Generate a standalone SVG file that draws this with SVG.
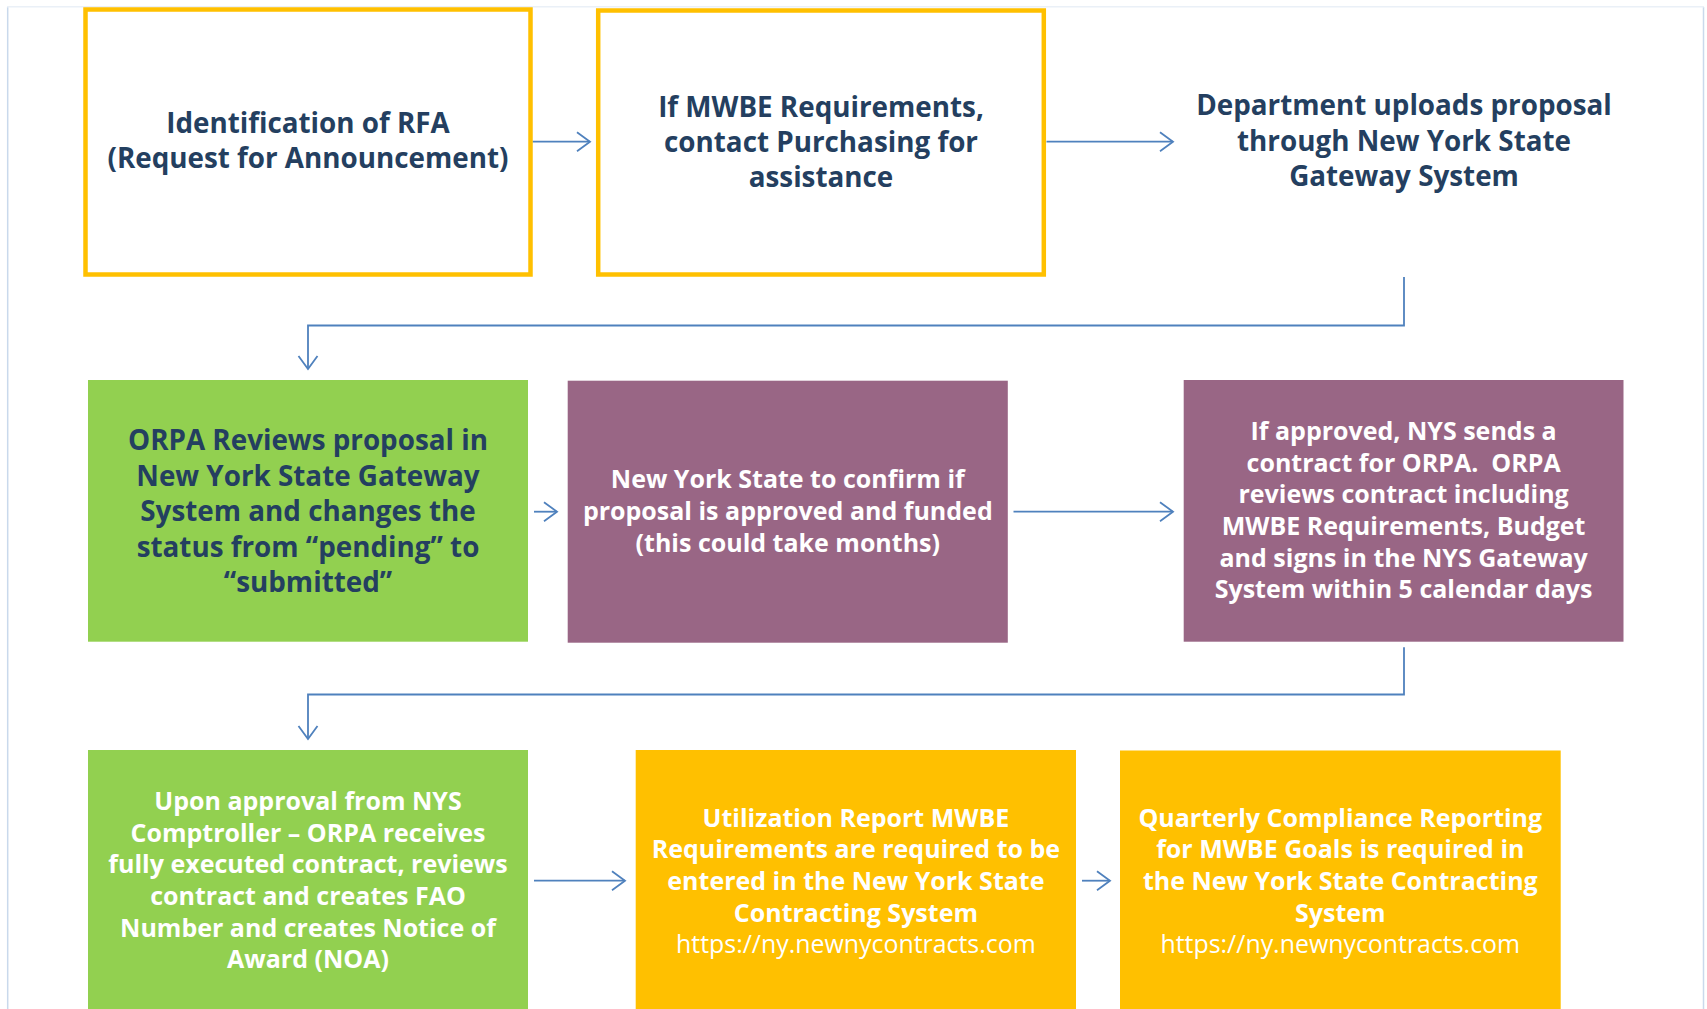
<svg xmlns="http://www.w3.org/2000/svg" width="1707" height="1009" viewBox="0 0 1707 1009">
<style>
  .t { font-family: "Open Sans", "Noto Sans", "Liberation Sans", sans-serif; font-weight: 700; text-anchor: middle; }
  .big { font-size: 27.8px; fill: #243F60; }
  .sm { font-size: 25px; fill: #FFFFFF; }
  .url { font-family: "Open Sans", "Noto Sans", "Liberation Sans", sans-serif; font-weight: 400; font-size: 24.9px; fill: #FFFFFF; text-anchor: middle; }
  .conn { fill: none; stroke: #4F81BD; stroke-width: 1.8; }
  .frame { stroke: #C9D9EC; stroke-width: 1.5; fill: none; }
</style>
<defs>
  <marker id="arr" markerUnits="userSpaceOnUse" markerWidth="20" markerHeight="24" viewBox="-16 -12 20 24" refX="0" refY="0" orient="auto">
    <path d="M -13 -9.5 L 0 0 L -13 9.5" fill="none" stroke="#4F81BD" stroke-width="1.8"/>
  </marker>
</defs>
<rect x="0" y="0" width="1707" height="1009" fill="#FFFFFF"/>
<g id="frame">
  <line class="frame" x1="7.7" y1="7" x2="7.7" y2="1009"/>
  <line class="frame" x1="1703.5" y1="7" x2="1703.5" y2="1009"/>
  <line x1="7" y1="6.7" x2="1704" y2="6.7" stroke="#EAF0F7" stroke-width="1.5"/>
</g>
<g id="connectors">
  <line class="conn" x1="532.5" y1="141.7" x2="590" y2="141.7" marker-end="url(#arr)"/>
  <line class="conn" x1="1046.5" y1="141.7" x2="1173" y2="141.7" marker-end="url(#arr)"/>
  <polyline class="conn" points="1404,277 1404,325.5 308,325.5 308,369" marker-end="url(#arr)"/>
  <line class="conn" x1="534" y1="511.7" x2="557" y2="511.7" marker-end="url(#arr)"/>
  <line class="conn" x1="1013.5" y1="511.7" x2="1173" y2="511.7" marker-end="url(#arr)"/>
  <polyline class="conn" points="1404,647.3 1404,694.5 308,694.5 308,739" marker-end="url(#arr)"/>
  <line class="conn" x1="534" y1="880.7" x2="625" y2="880.7" marker-end="url(#arr)"/>
  <line class="conn" x1="1082" y1="880.7" x2="1110" y2="880.7" marker-end="url(#arr)"/>
</g>
<g id="n1">
  <rect x="85.5" y="9.5" width="445" height="265" fill="#FFFFFF" stroke="#FFC000" stroke-width="4.5"/>
  <text class="t big" x="308" y="133.3">Identification of RFA</text>
  <text class="t big" x="308" y="168.3">(Request for Announcement)</text>
</g>
<g id="n2">
  <rect x="598.2" y="10.5" width="445.6" height="264" fill="#FFFFFF" stroke="#FFC000" stroke-width="4.5"/>
  <text class="t big" x="821" y="116.7">If MWBE Requirements,</text>
  <text class="t big" x="821" y="151.7">contact Purchasing for</text>
  <text class="t big" x="821" y="186.7">assistance</text>
</g>
<g id="n3">
  <text class="t big" x="1404" y="115">Department uploads proposal</text>
  <text class="t big" x="1404" y="150.7">through New York State</text>
  <text class="t big" x="1404" y="185.7">Gateway System</text>
</g>
<g id="n4">
  <rect x="88" y="380" width="440" height="261.7" fill="#92D050"/>
  <text class="t big" x="308" y="450">ORPA Reviews proposal in</text>
  <text class="t big" x="308" y="485.7">New York State Gateway</text>
  <text class="t big" x="308" y="520.7">System and changes the</text>
  <text class="t big" x="308" y="556.7">status from “pending” to</text>
  <text class="t big" x="308" y="591.7">“submitted”</text>
</g>
<g id="n5">
  <rect x="567.7" y="380.7" width="440.1" height="262" fill="#996685"/>
  <text class="t sm" x="787.8" y="488.3">New York State to confirm if</text>
  <text class="t sm" x="787.8" y="520">proposal is approved and funded</text>
  <text class="t sm" x="787.8" y="551.7">(this could take months)</text>
</g>
<g id="n6">
  <rect x="1183.7" y="380" width="439.8" height="261.7" fill="#996685"/>
  <text class="t sm" x="1403.6" y="440">If approved, NYS sends a</text>
  <text class="t sm" x="1403.6" y="471.7">contract for ORPA.&#160; ORPA</text>
  <text class="t sm" x="1403.6" y="503.3">reviews contract including</text>
  <text class="t sm" x="1403.6" y="535">MWBE Requirements, Budget</text>
  <text class="t sm" x="1403.6" y="566.7">and signs in the NYS Gateway</text>
  <text class="t sm" x="1403.6" y="598.3">System within 5 calendar days</text>
</g>
<g id="n7">
  <rect x="88" y="750" width="440" height="270" fill="#92D050"/>
  <text class="t sm" x="308" y="810">Upon approval from NYS</text>
  <text class="t sm" x="308" y="841.7">Comptroller – ORPA receives</text>
  <text class="t sm" x="308" y="873.3">fully executed contract, reviews</text>
  <text class="t sm" x="308" y="905">contract and creates FAO</text>
  <text class="t sm" x="308" y="936.7">Number and creates Notice of</text>
  <text class="t sm" x="308" y="968.3">Award (NOA)</text>
</g>
<g id="n8">
  <rect x="635.7" y="750" width="440.3" height="270" fill="#FFC000"/>
  <text class="t sm" x="855.9" y="826.7">Utilization Report MWBE</text>
  <text class="t sm" x="855.9" y="858.3">Requirements are required to be</text>
  <text class="t sm" x="855.9" y="890">entered in the New York State</text>
  <text class="t sm" x="855.9" y="921.7">Contracting System</text>
  <text class="url" x="855.9" y="952.7">https://ny.newnycontracts.com</text>
</g>
<g id="n9">
  <rect x="1120" y="750.5" width="440.7" height="270" fill="#FFC000"/>
  <text class="t sm" x="1340.3" y="826.7">Quarterly Compliance Reporting</text>
  <text class="t sm" x="1340.3" y="858.3">for MWBE Goals is required in</text>
  <text class="t sm" x="1340.3" y="890">the New York State Contracting</text>
  <text class="t sm" x="1340.3" y="921.7">System</text>
  <text class="url" x="1340.3" y="952.7">https://ny.newnycontracts.com</text>
</g>
</svg>
